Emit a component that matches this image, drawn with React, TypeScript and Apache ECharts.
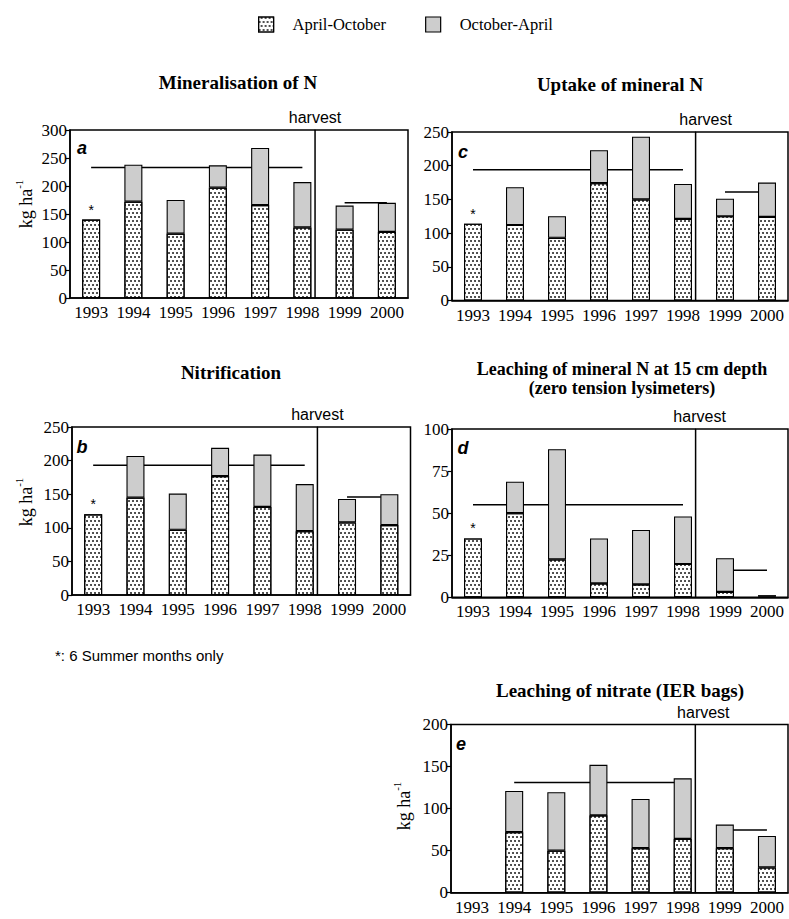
import { useEffect, useRef } from 'react';
import * as echarts from 'echarts';

const years = ['1993', '1994', '1995', '1996', '1997', '1998', '1999', '2000'];

// a: Mineralisation of N
const aprA = [140, 172, 115, 197, 166, 126, 122, 118];
const octA = [null, 66, 60, 40, 102, 81, 43, 52];
const meanA = [233, 170];
// c: Uptake of mineral N
const aprC = [114, 112, 93, 174, 150, 121, 125, 124];
const octC = [null, 56, 32, 49, 93, 52, 26, 51];
const meanC = [194, 161];
// b: Nitrification
const aprB = [120, 145, 97, 177, 131, 95, 108, 104];
const octB = [null, 62, 54, 42, 78, 70, 35, 46];
const meanB = [193, 146];
// d: Leaching of mineral N at 15 cm depth
const aprD = [35, 50, 22.5, 8.3, 7.7, 19.8, 3.2, 0.4];
const octD = [null, 18.7, 65.5, 26.7, 32.3, 28.2, 20, 0.9];
const meanD = [55, 16];
// e: Leaching of nitrate (IER bags)
const aprE = [null, 72, 50, 92, 53, 64, 53, 30];
const octE = [null, 49, 69.5, 60, 58.5, 72, 28, 37.5];
const meanE = [131, 74.5];

const harvestPos = 5.3; // between 1998 and 1999 (category units)

const SERIF = 'Liberation Serif';
const SANS = 'Liberation Sans';

type Panel = {
  apr: (number | null)[];
  oct: (number | null)[];
  mean: number[];
  span1: [number, number];
  span2: [number, number];
  max: number;
  interval: number;
  star: boolean;
  grid: { left: number; top: number; width: number; height: number };
  harvestDx: number;
};

const panels: Panel[] = [
  { apr: aprA, oct: octA, mean: meanA, span1: [0, 5], span2: [6, 7], max: 300, interval: 50, star: true,
    grid: { left: 70, top: 130, width: 338, height: 168 }, harvestDx: 0 },
  { apr: aprC, oct: octC, mean: meanC, span1: [0, 5], span2: [6, 7], max: 250, interval: 50, star: true,
    grid: { left: 452, top: 132, width: 336, height: 168.5 }, harvestDx: 10 },
  { apr: aprB, oct: octB, mean: meanB, span1: [0, 5], span2: [6, 7], max: 250, interval: 50, star: true,
    grid: { left: 72, top: 427, width: 338.5, height: 168 }, harvestDx: 0 },
  { apr: aprD, oct: octD, mean: meanD, span1: [0, 5], span2: [6, 7], max: 100, interval: 25, star: true,
    grid: { left: 452, top: 429, width: 336, height: 168.3 }, harvestDx: 4 },
  { apr: aprE, oct: octE, mean: meanE, span1: [1, 5], span2: [6, 7], max: 200, interval: 50, star: false,
    grid: { left: 451, top: 724.5, width: 337, height: 168.2 }, harvestDx: 8 },
];

const decal = {
  symbol: 'circle',
  symbolSize: 0.85,
  color: '#000',
  dashArrayX: [[2, 2], [0, 2, 2, 0]],
  dashArrayY: [2, 2],
  rotation: 0,
};

function centerText(x: number, y: number, text: string, font: string) {
  return {
    type: 'text',
    x,
    y,
    silent: true,
    style: { text, font, fill: '#000', align: 'center', verticalAlign: 'middle', textAlign: 'center', textVerticalAlign: 'middle' },
  };
}

function yLabel(x: number, y: number) {
  return {
    type: 'text',
    x,
    y,
    rotation: Math.PI / 2,
    silent: true,
    style: {
      text: '{a|kg ha}{b|-1}',
      align: 'center',
      verticalAlign: 'middle',
      textAlign: 'center',
      textVerticalAlign: 'middle',
      rich: {
        a: { fontFamily: SERIF, fontSize: 18, lineHeight: 22, fill: '#000', verticalAlign: 'bottom' },
        b: { fontFamily: SERIF, fontSize: 11, lineHeight: 22, fill: '#000', verticalAlign: 'top' },
      },
    },
  };
}

export default function App() {
  const ref = useRef<HTMLDivElement>(null);

  useEffect(() => {
    if (!ref.current) return;
    const chart = echarts.init(ref.current, undefined, { renderer: 'svg' });

    const grid: any[] = [];
    const xAxis: any[] = [];
    const yAxis: any[] = [];
    const series: any[] = [];

    panels.forEach((p, i) => {
      grid.push({ ...p.grid, show: true, borderColor: '#000', borderWidth: 1.5, backgroundColor: 'transparent' });
      xAxis.push({
        type: 'category',
        gridIndex: i,
        data: years,
        axisLine: { onZero: false, lineStyle: { color: '#000', width: 1.5 } },
        axisTick: { alignWithLabel: true, length: 4, lineStyle: { color: '#000', width: 1.2 } },
        axisLabel: { color: '#000', fontFamily: SERIF, fontSize: 17, margin: 6, interval: 0 },
        splitLine: { show: false },
      });
      xAxis.push({ type: 'value', gridIndex: i, min: -0.5, max: 7.5, show: false });
      yAxis.push({
        type: 'value',
        gridIndex: i,
        min: 0,
        max: p.max,
        interval: p.interval,
        axisLine: { show: true, onZero: false, lineStyle: { color: '#000', width: 1.5 } },
        axisTick: { show: true, length: 4, lineStyle: { color: '#000', width: 1.2 } },
        axisLabel: { color: '#000', fontFamily: SERIF, fontSize: 17, margin: 3 },
        splitLine: { show: false },
      });

      const aprData = p.apr.map((v, k) =>
        k === 0 && p.star && v != null
          ? { value: v, label: { show: true, position: 'top', distance: 3, formatter: '*', fontFamily: SANS, fontSize: 14, color: '#000' } }
          : v
      );

      series.push({
        name: 'April-October',
        type: 'bar',
        xAxisIndex: 2 * i,
        yAxisIndex: i,
        stack: 'p' + i,
        barWidth: 18,
        z: 3,
        data: aprData,
        itemStyle: { color: '#fff', borderColor: '#000', borderWidth: 1.1, decal },
      });
      series.push({
        name: 'October-April',
        type: 'bar',
        xAxisIndex: 2 * i,
        yAxisIndex: i,
        stack: 'p' + i,
        barWidth: 18,
        z: 3,
        data: p.oct,
        itemStyle: { color: '#cdcdcd', borderColor: '#000', borderWidth: 1.1 },
      });
      [p.span1, p.span2].forEach((span, j) => {
        series.push({
          type: 'line',
          xAxisIndex: 2 * i,
          yAxisIndex: i,
          z: 1,
          silent: true,
          symbol: 'none',
          lineStyle: { color: '#000', width: 1.5 },
          data: years.map((_, k) => (k >= span[0] && k <= span[1] ? p.mean[j] : null)),
        });
      });
      series.push({
        type: 'line',
        xAxisIndex: 2 * i + 1,
        yAxisIndex: i,
        z: 4,
        silent: true,
        showSymbol: true,
        symbol: 'circle',
        symbolSize: 1,
        itemStyle: { color: '#000' },
        lineStyle: { color: '#000', width: 1.5 },
        data: [
          [harvestPos, 0],
          {
            value: [harvestPos, p.max],
            label: {
              show: true,
              position: 'top',
              distance: 4,
              offset: [p.harvestDx, 0],
              formatter: 'harvest',
              fontFamily: SANS,
              fontSize: 16,
              color: '#000',
            },
          },
        ],
      });
    });

    const graphic: any[] = [
      centerText(238, 82, 'Mineralisation of N', `bold 19px "${SERIF}"`),
      centerText(620, 84, 'Uptake of mineral N', `bold 19px "${SERIF}"`),
      centerText(231, 372, 'Nitrification', `bold 19px "${SERIF}"`),
      centerText(622, 368.5, 'Leaching of mineral N at 15 cm depth', `bold 18px "${SERIF}"`),
      centerText(622, 387.5, '(zero tension lysimeters)', `bold 18px "${SERIF}"`),
      centerText(620, 690, 'Leaching of nitrate (IER bags)', `bold 19px "${SERIF}"`),
      centerText(82, 148, 'a', `italic bold 18px "${SANS}"`),
      centerText(463, 152, 'c', `italic bold 18px "${SANS}"`),
      centerText(82, 447, 'b', `italic bold 18px "${SANS}"`),
      centerText(463, 448, 'd', `italic bold 18px "${SANS}"`),
      centerText(461, 744, 'e', `italic bold 18px "${SANS}"`),
      yLabel(24, 204),
      yLabel(24, 502),
      yLabel(402, 806),
      {
        type: 'text',
        x: 55,
        y: 655,
        silent: true,
        style: { text: '*: 6 Summer months only', font: `15px "${SANS}"`, fill: '#000', verticalAlign: 'middle', textVerticalAlign: 'middle' },
      },
    ];

    chart.setOption({
      animation: false,
      backgroundColor: '#fff',
      legend: {
        data: ['April-October', 'October-April'],
        left: 258,
        top: 16,
        padding: 0,
        icon: 'rect',
        itemWidth: 15,
        itemHeight: 15,
        itemGap: 39,
        selectedMode: false,
        itemStyle: { borderColor: '#000', borderWidth: 1.2 },
        textStyle: { fontFamily: SERIF, fontSize: 16.5, color: '#000', padding: [0, 0, 0, 14] },
      },
      grid,
      xAxis,
      yAxis,
      series,
      graphic,
    });

    return () => chart.dispose();
  }, []);

  return (
    <div
      ref={ref}
      style={{ position: 'absolute', left: 0, top: 0, width: 789, height: 919, background: '#fff' }}
    />
  );
}
